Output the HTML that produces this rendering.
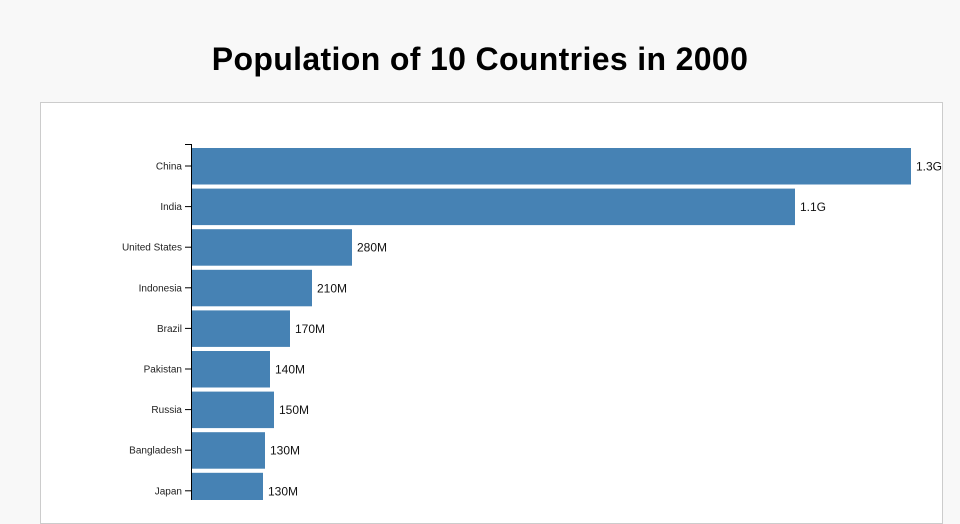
<!DOCTYPE html>
<html><head><style>
body{margin:0;width:960px;height:500px;background:#f8f8f8;overflow:hidden;font-family:"Liberation Sans",sans-serif;}
h1{position:absolute;left:0;width:960px;top:41px;margin:0;text-align:center;font-size:32px;font-weight:bold;color:#000;letter-spacing:0.35px;}
.panel{position:absolute;left:40px;top:102px;width:901px;height:420px;background:#fff;border:1px solid #ccc;}
</style></head><body>
<h1>Population of 10 Countries in 2000</h1>
<div class="panel"></div>
<svg style="position:absolute;left:0;top:0" width="960" height="500">
<g font-size="10" fill="#222" text-anchor="end">
<line x1="191.5" y1="144" x2="191.5" y2="500" stroke="#000"/>
<line x1="191" y1="144.5" x2="185" y2="144.5" stroke="#000"/>
</g>
<g id="bars"></g>
</svg>
<script>
var d=[["China",911,"1.3G"],["India",795,"1.1G"],["United States",352,"280M"],["Indonesia",312,"210M"],["Brazil",290,"170M"],["Pakistan",270,"140M"],["Russia",274,"150M"],["Bangladesh",265,"130M"],["Japan",263,"130M"],["Nigeria",250,"120M"]];
var g=document.getElementById("bars"),s="";
d.forEach(function(r,i){var y=148+i*40.6;var c=y+18;
s+='<rect x="192" y="'+y+'" width="'+(r[1]-192)+'" height="36.5" fill="#4682b4"/>';
s+='<line x1="185" x2="191" y1="'+c+'" y2="'+c+'" stroke="#000"/>';
s+='<text x="182" y="'+(c+3.5)+'" font-size="10" text-anchor="end" fill="#222">'+r[0]+'</text>';
s+='<text x="'+(r[1]+5)+'" y="'+(c+4.5)+'" font-size="12" fill="#111">'+r[2]+'</text>';});
g.innerHTML=s;
</script>
</body></html>
